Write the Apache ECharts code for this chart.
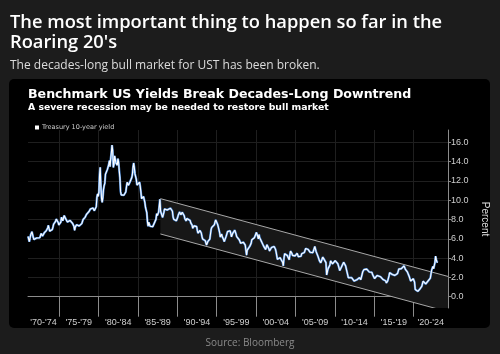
<!DOCTYPE html>
<html><head><meta charset="utf-8">
<script src="https://cdn.jsdelivr.net/npm/echarts/dist/echarts.min.js"></script>
<style>html,body{margin:0;padding:0;background:#1c1c1c;}#c{width:500px;height:354px;}</style>
</head><body><div id="c"></div>
<script>
// Monthly US Treasury 10-year yield (%), Jan 1971 .. Jan 2023
const startYear = 1971;
const yields = [
 6.24,6.11,5.70,5.83,6.39,6.52,6.73,6.58,6.14,5.93,5.81,5.93, // 1971
 5.95,6.08,6.07,6.19,6.13,6.11,6.11,6.21,6.55,6.48,6.28,6.36, // 1972
 6.46,6.64,6.71,6.67,6.85,6.90,7.13,7.40,7.09,6.79,6.73,6.74, // 1973
 6.99,6.96,7.21,7.51,7.58,7.54,7.81,8.04,8.04,7.90,7.68,7.43, // 1974
 7.50,7.39,7.73,8.23,8.06,7.86,8.06,8.40,8.43,8.14,8.05,8.00, // 1975
 7.74,7.79,7.73,7.56,7.90,7.86,7.83,7.77,7.59,7.41,7.29,6.87, // 1976
 7.21,7.39,7.46,7.37,7.46,7.28,7.33,7.40,7.34,7.52,7.58,7.69, // 1977
 8.01,8.01,8.06,8.23,8.40,8.52,8.61,8.44,8.54,8.83,8.88,9.09, // 1978
 9.10,9.10,9.12,9.18,9.25,8.91,8.95,9.03,9.33,10.30,10.65,10.39, // 1979
 10.80,12.60,13.40,11.47,10.18,9.78,10.25,11.10,11.51,11.75,12.68,12.84, // 1980
 12.57,13.19,13.12,13.68,14.10,13.47,14.28,14.94,15.70,15.15,13.39,13.72, // 1981
 14.59,14.43,13.86,13.87,13.62,14.30,13.95,13.06,12.34,10.91,10.55,10.54, // 1982
 10.46,10.72,10.51,10.40,10.38,10.85,11.38,11.85,11.65,11.54,11.69,11.83, // 1983
 11.67,11.84,12.32,12.63,13.41,13.85,13.36,12.72,12.52,12.16,11.57,11.50, // 1984
 11.38,11.51,11.86,11.43,10.85,10.16,10.31,10.33,10.37,10.24,9.78,9.26, // 1985
 9.19,8.70,7.78,7.30,7.71,7.80,7.30,7.17,7.45,7.43,7.25,7.11, // 1986
 7.08,7.25,7.25,8.02,8.61,8.40,8.45,8.76,9.42,10.10,8.86,8.99, // 1987
 8.67,8.21,8.37,8.72,9.09,8.92,9.06,9.26,8.98,8.80,8.96,9.11, // 1988
 9.09,9.17,9.36,9.18,8.86,8.28,8.02,8.11,8.19,8.01,7.87,7.84, // 1989
 8.21,8.47,8.59,8.79,8.76,8.48,8.47,8.75,8.89,8.72,8.39,8.08, // 1990
 8.09,7.85,8.11,8.04,8.07,8.28,8.27,7.90,7.65,7.53,7.42,7.09, // 1991
 7.03,7.34,7.54,7.48,7.39,7.26,6.84,6.59,6.42,6.59,6.87,6.77, // 1992
 6.60,6.26,5.98,5.97,6.04,5.96,5.81,5.68,5.36,5.33,5.72,5.77, // 1993
 5.75,5.97,6.48,6.97,7.18,7.10,7.30,7.24,7.46,7.74,7.96,7.81, // 1994
 7.78,7.47,7.20,7.06,6.63,6.17,6.28,6.49,6.20,6.04,5.93,5.71, // 1995
 5.65,5.81,6.27,6.51,6.74,6.91,6.87,6.64,6.83,6.53,6.20,6.30, // 1996
 6.58,6.42,6.69,6.89,6.71,6.49,6.22,6.30,6.21,6.03,5.88,5.81, // 1997
 5.54,5.57,5.65,5.64,5.65,5.50,5.46,5.34,4.81,4.30,4.83,4.65, // 1998
 4.72,5.00,5.23,5.18,5.54,5.90,5.79,5.94,5.92,6.11,6.03,6.28, // 1999
 6.66,6.52,6.26,5.99,6.44,6.10,6.05,5.83,5.80,5.74,5.72,5.24, // 2000
 5.16,5.10,4.89,5.14,5.39,5.28,5.24,4.97,4.73,4.57,4.65,5.09, // 2001
 5.04,4.91,5.28,5.21,5.16,4.93,4.65,4.26,3.87,3.94,4.05,4.03, // 2002
 4.05,3.90,3.81,3.96,3.57,3.20,3.98,4.45,4.27,4.29,4.30,4.27, // 2003
 4.15,4.08,3.83,4.35,4.72,4.73,4.50,4.28,4.13,4.10,4.19,4.23, // 2004
 4.22,4.17,4.50,4.34,4.14,4.00,4.18,4.26,4.20,4.46,4.54,4.47, // 2005
 4.42,4.57,4.72,4.99,5.11,5.11,5.09,4.88,4.72,4.73,4.60,4.56, // 2006
 4.76,4.72,4.56,4.69,4.75,5.20,5.00,4.67,4.52,4.53,4.15,4.10, // 2007
 3.74,3.74,3.51,3.68,3.88,4.10,4.01,3.89,3.69,3.81,3.53,2.25, // 2008
 2.52,2.87,2.82,2.93,3.29,3.72,3.56,3.59,3.40,3.39,3.40,3.59, // 2009
 3.73,3.69,3.73,3.85,3.42,3.20,3.01,2.70,2.65,2.54,2.76,3.29, // 2010
 3.39,3.58,3.41,3.46,3.17,3.00,3.00,2.30,1.98,2.15,2.01,1.98, // 2011
 1.97,1.97,2.17,2.05,1.80,1.62,1.47,1.68,1.72,1.75,1.65,1.72, // 2012
 1.91,1.98,1.96,1.76,1.93,2.30,2.58,2.74,2.81,2.62,2.72,2.95, // 2013
 2.86,2.71,2.72,2.71,2.56,2.60,2.54,2.42,2.53,2.30,2.33,2.21, // 2014
 1.88,1.98,2.04,1.94,2.20,2.36,2.32,2.17,2.17,2.07,2.26,2.24, // 2015
 2.09,1.78,1.89,1.81,1.81,1.64,1.42,1.56,1.63,1.76,2.14,2.49, // 2016
 2.43,2.42,2.48,2.30,2.30,2.19,2.32,2.21,2.20,2.36,2.35,2.40, // 2017
 2.58,2.86,2.84,2.87,2.98,2.91,2.89,2.89,3.00,3.20,3.12,2.83, // 2018
 2.71,2.68,2.57,2.53,2.40,2.07,2.06,1.63,1.70,1.71,1.81,1.86, // 2019
 1.76,1.50,0.75,0.66,0.67,0.73,0.55,0.65,0.68,0.79,0.87,0.93, // 2020
 1.08,1.26,1.61,1.64,1.62,1.52,1.32,1.28,1.37,1.58,1.56,1.47, // 2021
 1.76,1.93,2.13,2.75,2.90,3.14,2.90,2.90,3.52,4.20,3.89,3.62, // 2022
 3.53 // 2023
];
const tickYears = [1975,1980,1985,1990,1995,2000,2005,2010,2015,2020];
const periodLabels = ["'70-'74","'75-'79","'80-'84","'85-'89","'90-'94","'95-'99","'00-'04","'05-'09","'10-'14","'15-'19","'20-'24"];
const yTicks = [0,2,4,6,8,10,12,14,16];
const channelX = [1987.85, 2024.37];
const channelUpper = [10.16, 2.10];
const channelLower = [6.50, -1.56];

const xMin = 1971.04, xMax = 2024.37;
const bounds = [xMin].concat(tickYears, [xMax]);
const labelPos = periodLabels.map((_, i) => (bounds[i] + bounds[i + 1]) / 2);
const yieldData = yields.map((v, i) => [startYear + (i + 0.5) / 12, v]);

const chart = echarts.init(document.getElementById('c'), null, {renderer: 'canvas'});
const gridCol = '#1f1f1f', axisCol = '#8c8c8c', chCol = '#a8a8a8';
chart.setOption({
  backgroundColor: '#1c1c1c',
  animation: false,
  graphic: [{type: 'rect', z: -10, silent: true,
    shape: {x: 9, y: 79, width: 481, height: 249, r: 5}, style: {fill: '#000'}}],
  title: [
    {text: "The most important thing to happen so far in the\nRoaring 20's", left: 10, top: 13, padding: 0,
     textStyle: {color: '#fff', fontFamily: 'Open Sans', fontWeight: 600, fontSize: 18.3, lineHeight: 20}},
    {text: 'The decades-long bull market for UST has been broken.', left: 10, top: 60, padding: 0,
     textStyle: {color: '#dcdcdc', fontFamily: 'Open Sans', fontWeight: 400, fontSize: 12}},
    {text: 'Benchmark US Yields Break Decades-Long Downtrend', left: 28, top: 88, padding: 0,
     textStyle: {color: '#fff', fontFamily: 'DejaVu Sans', fontWeight: 'bold', fontSize: 12.6}},
    {text: 'A severe recession may be needed to restore bull market', left: 28, top: 103, padding: 0,
     textStyle: {color: '#fff', fontFamily: 'DejaVu Sans', fontWeight: 'bold', fontSize: 9.3}},
    {text: 'Source: Bloomberg', left: 'center', top: 333,
     textStyle: {color: '#8a8a8a', fontFamily: 'Open Sans', fontWeight: 400, fontSize: 10}}
  ],
  legend: {data: ['Treasury 10-year yield'], left: 30, top: 119, icon: 'rect', itemWidth: 4, itemHeight: 4,
    itemGap: 3, textStyle: {color: '#cfcfcf', fontSize: 6.5, fontFamily: 'DejaVu Sans', padding: [0,0,0,-2]}},
  grid: {left: 28, right: 52, top: 130, bottom: 46},
  xAxis: {type: 'value', min: xMin, max: xMax,
    axisLine: {show: true, lineStyle: {color: axisCol, width: 1}},
    axisTick: {show: true, customValues: tickYears, length: 20, lineStyle: {color: axisCol}},
    axisLabel: {customValues: labelPos, color: '#cfcfcf', fontSize: 9, fontFamily: 'Liberation Sans', margin: 10,
      formatter: v => { let k = 0, d = 1e9; labelPos.forEach((p, i) => { if (Math.abs(p - v) < d) { d = Math.abs(p - v); k = i; } }); return periodLabels[k]; }},
    splitLine: {show: true, lineStyle: {color: gridCol, width: 1}}},
  yAxis: {type: 'value', position: 'right', min: -1.17, max: 17.27,
    name: 'Percent', nameLocation: 'middle', nameRotate: -90, nameGap: 26,
    nameTextStyle: {color: '#dcdcdc', fontSize: 10, fontFamily: 'Liberation Sans'},
    axisLine: {show: true, lineStyle: {color: axisCol, width: 1}},
    axisTick: {show: true, customValues: yTicks, length: 3, lineStyle: {color: axisCol}},
    axisLabel: {customValues: yTicks, color: '#cfcfcf', fontSize: 9, fontFamily: 'Liberation Sans', margin: 3,
      formatter: v => v.toFixed(1)},
    splitLine: {show: true, lineStyle: {color: gridCol, width: 1}}},
  series: [
    {type: 'custom', name: 'channel', silent: true, clip: true, z: 1,
     data: [[channelX[0], channelUpper[0], channelX[1], channelUpper[1]]],
     renderItem: (params, api) => {
       const u0 = api.coord([channelX[0], channelUpper[0]]), u1 = api.coord([channelX[1], channelUpper[1]]);
       const l0 = api.coord([channelX[0], channelLower[0]]), l1 = api.coord([channelX[1], channelLower[1]]);
       return {type: 'group', children: [
         {type: 'polygon', shape: {points: [u0, u1, l1, l0]}, style: {fill: '#171717', stroke: null}},
         {type: 'line', shape: {x1: u0[0], y1: u0[1], x2: u1[0], y2: u1[1]}, style: {stroke: chCol, lineWidth: 1}},
         {type: 'line', shape: {x1: l0[0], y1: l0[1], x2: l1[0], y2: l1[1]}, style: {stroke: chCol, lineWidth: 1}}
       ]};
     }},
    {type: 'line', name: 'glow', symbol: 'none', silent: true, data: yieldData,
     lineStyle: {color: '#4f8fe0', width: 2.2}, z: 2},
    {type: 'line', name: 'Treasury 10-year yield', symbol: 'none', data: yieldData,
     itemStyle: {color: '#ffffff'}, lineStyle: {color: '#ffffff', width: 1.1}, z: 3}
  ]
});
</script></body></html>
